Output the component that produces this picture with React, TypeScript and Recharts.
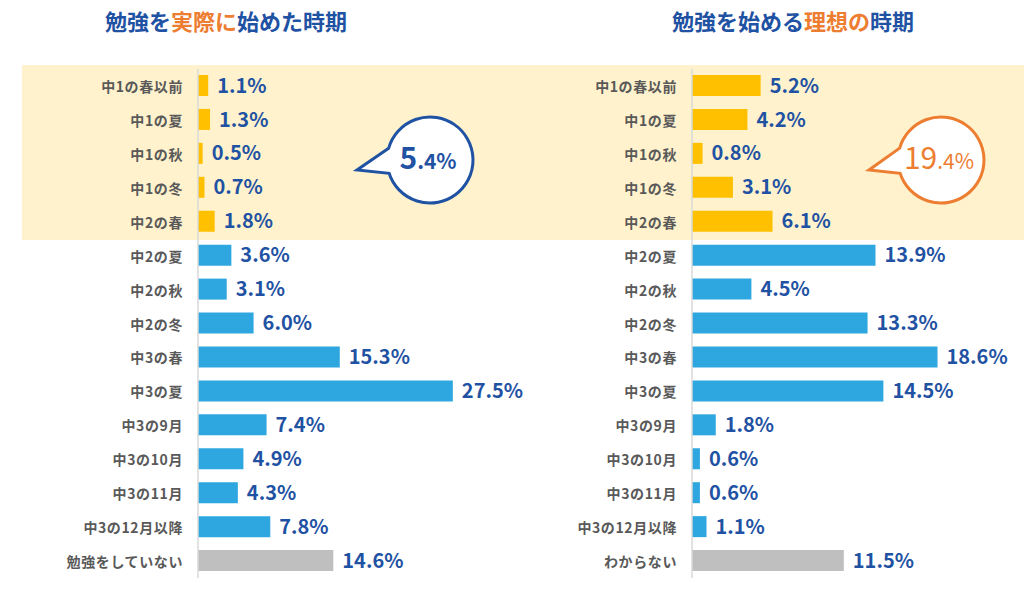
import React from 'react';
import { BarChart, Bar, XAxis, YAxis, Cell, LabelList } from 'recharts';

const leftCategories = ['中1の春以前', '中1の夏', '中1の秋', '中1の冬', '中2の春', '中2の夏', '中2の秋', '中2の冬', '中3の春', '中3の夏', '中3の9月', '中3の10月', '中3の11月', '中3の12月以降', '勉強をしていない'];
const leftValues = [1.1, 1.3, 0.5, 0.7, 1.8, 3.6, 3.1, 6.0, 15.3, 27.5, 7.4, 4.9, 4.3, 7.8, 14.6];
const rightCategories = ['中1の春以前', '中1の夏', '中1の秋', '中1の冬', '中2の春', '中2の夏', '中2の秋', '中2の冬', '中3の春', '中3の夏', '中3の9月', '中3の10月', '中3の11月', '中3の12月以降', 'わからない'];
const rightValues = [5.2, 4.2, 0.8, 3.1, 6.1, 13.9, 4.5, 13.3, 18.6, 14.5, 1.8, 0.6, 0.6, 1.1, 11.5];
const groups = ['early', 'early', 'early', 'early', 'early', 'later', 'later', 'later', 'later', 'later', 'later', 'later', 'later', 'later', 'none'];
const leftTotal = { big: '5', small: '.4%' };
const rightTotal = { big: '19', small: '.4%' };

const groupColor: Record<string, string> = { early: '#FFC000', later: '#2EA7E0', none: '#BFBFBF' };
const BLUE = '#1F52A3';
const ORANGE = '#ED7D31';
const FONT = '"Noto Sans CJK JP", "Noto Sans", sans-serif';

const CatTick = (props: any) => {
  const { x, y, payload } = props;
  return (
    <text x={x} y={y} textAnchor="end" dominantBaseline="central" fill="#595959" fontSize={14} fontWeight={700} fontFamily={FONT} letterSpacing={0.6}>
      {payload.value}
    </text>
  );
};

function Side(props: { cats: string[]; vals: number[]; left: number; width: number; yWidth: number; right: number; max: number }) {
  const data = props.cats.map((c, i) => ({ name: c, value: props.vals[i], group: groups[i] }));
  return (
    <div style={{ position: 'absolute', left: props.left, top: 0 }}>
      <BarChart
        width={props.width}
        height={594}
        data={data}
        layout="vertical"
        margin={{ top: 69, bottom: 16, left: 0, right: props.right }}
        barCategoryGap={0}
        style={{ overflow: 'visible' }}
      >
        <XAxis type="number" domain={[0, props.max]} hide />
        <YAxis
          type="category"
          dataKey="name"
          width={props.yWidth}
          tick={<CatTick />}
          tickLine={false}
          tickSize={0}
          tickMargin={15}
          axisLine={{ stroke: '#D9D9D9', strokeWidth: 1.5 }}
          interval={0}
        />
        <Bar dataKey="value" barSize={21} isAnimationActive={false}>
          {data.map((d, i) => (
            <Cell key={i} fill={groupColor[d.group]} />
          ))}
          <LabelList
            dataKey="value"
            position="right"
            offset={9}
            formatter={(v: any) => `${Number(v).toFixed(1)}%`}
            fill={BLUE}
            fontSize={20}
            fontWeight={700}
            fontFamily={FONT}
          />
        </Bar>
      </BarChart>
    </div>
  );
}

function bubblePath(cx: number, cy: number, r: number, tipX: number, tipY: number) {
  const a1 = (196 * Math.PI) / 180;
  const a2 = (162 * Math.PI) / 180;
  const ux = cx + r * Math.cos(a1);
  const uy = cy + r * Math.sin(a1);
  const lx = cx + r * Math.cos(a2);
  const ly = cy + r * Math.sin(a2);
  return `M ${ux} ${uy} L ${tipX} ${tipY} L ${lx} ${ly} A ${r} ${r} 0 1 0 ${ux} ${uy} Z`;
}

function Bubble(props: { cx: number; cy: number; tipX: number; tipY: number; color: string; big: string; small: string; weight: number }) {
  return (
    <g>
      <path d={bubblePath(props.cx, props.cy, 43, props.tipX, props.tipY)} fill="#FFFFFF" stroke={props.color} strokeWidth={3} strokeLinejoin="miter" />
      <text x={props.cx - 2} y={props.cy + 9} textAnchor="middle" fill={props.color} fontFamily={FONT} fontWeight={props.weight}>
        <tspan fontSize={30}>{props.big}</tspan>
        <tspan fontSize={21}>{props.small}</tspan>
      </text>
    </g>
  );
}

export default function App() {
  return (
    <div style={{ position: 'absolute', left: 0, top: 0, width: 1024, height: 594, background: '#FFFFFF', overflow: 'hidden', fontFamily: FONT }}>
      <div style={{ position: 'absolute', left: 22, top: 65, width: 1002, height: 175, background: '#FFF2CC' }} />
      <div style={{ position: 'absolute', left: 0, top: 6, width: 452, textAlign: 'center', fontSize: 22, fontWeight: 700, lineHeight: '28px', color: BLUE }}>
        勉強を<span style={{ color: ORANGE }}>実際に</span>始めた時期
      </div>
      <div style={{ position: 'absolute', left: 593, top: 6, width: 400, textAlign: 'center', fontSize: 22, fontWeight: 700, lineHeight: '28px', color: BLUE }}>
        勉強を始める<span style={{ color: ORANGE }}>理想の</span>時期
      </div>
      <Side cats={leftCategories} vals={leftValues} left={0} width={540} yWidth={198} right={64} max={30} />
      <Side cats={rightCategories} vals={rightValues} left={540} width={484} yWidth={152} right={68} max={20} />
      <svg width={1024} height={594} style={{ position: 'absolute', left: 0, top: 0, pointerEvents: 'none' }}>
        <Bubble cx={430} cy={160} tipX={357} tipY={170} color={BLUE} big={leftTotal.big} small={leftTotal.small} weight={700} />
        <Bubble cx={941} cy={160} tipX={869} tipY={170} color={ORANGE} big={rightTotal.big} small={rightTotal.small} weight={400} />
      </svg>
    </div>
  );
}
